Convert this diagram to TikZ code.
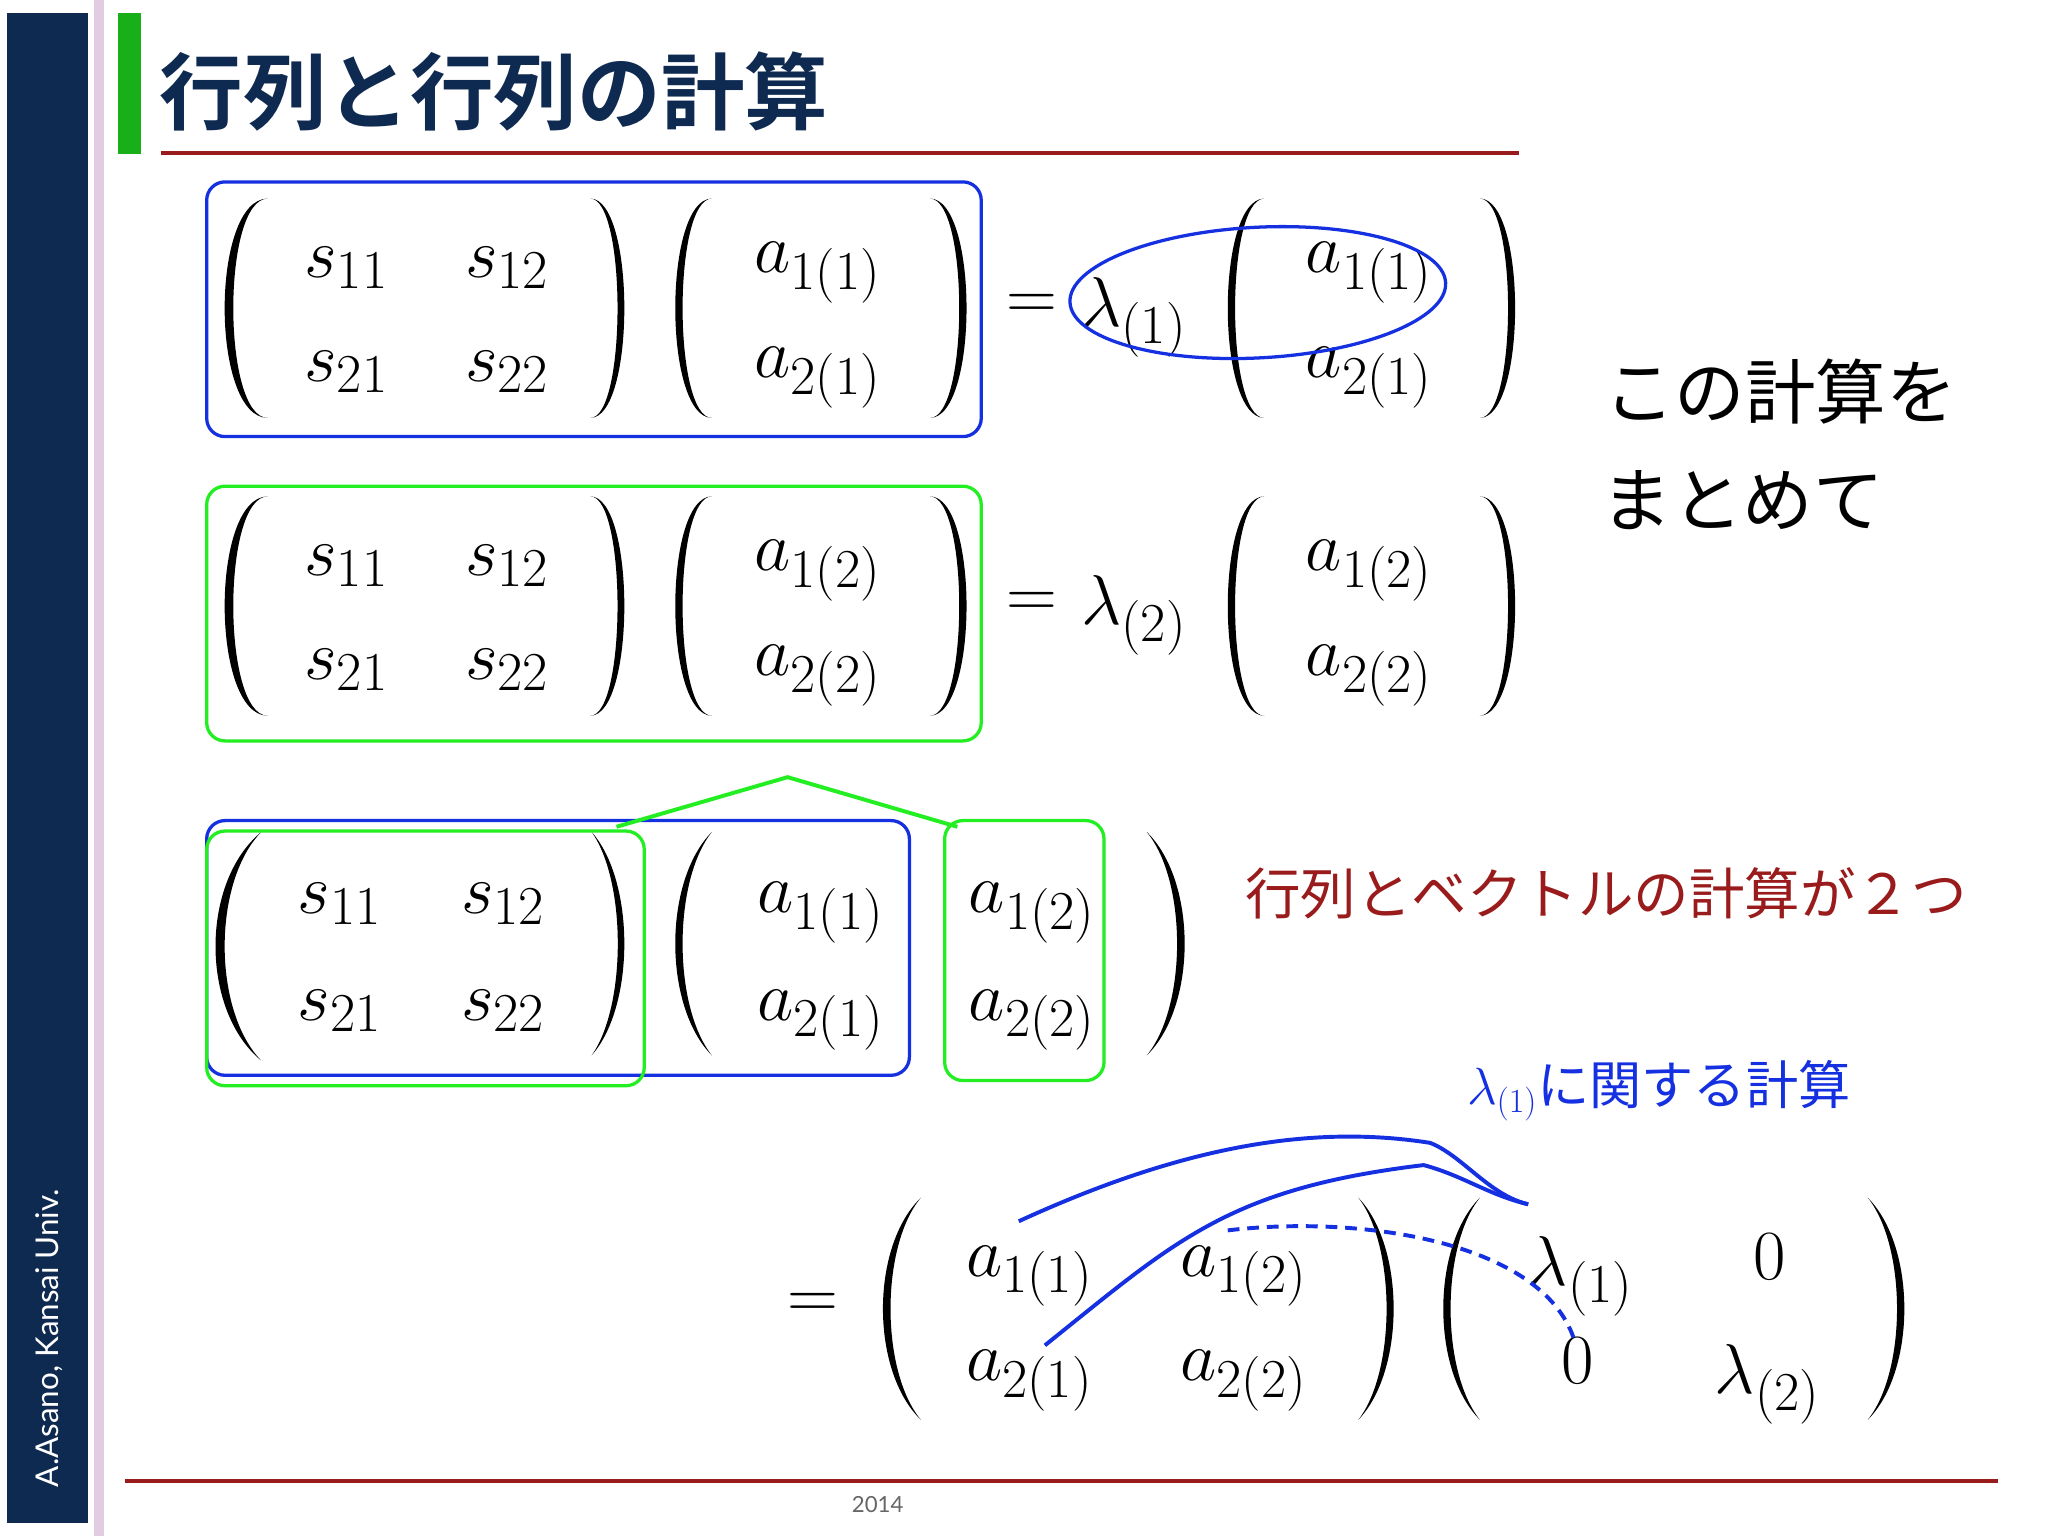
\documentclass[tikz,border=0pt]{standalone}
\usepackage{fix-cm}
\usepackage{fontspec}
\usetikzlibrary{shapes.geometric}
\newfontfamily\cjk{Noto Sans CJK JP}
\newfontfamily\cjkb{Noto Sans CJK JP Bold}
\setsansfont{Lato}
\DeclareMathSizes{54}{54}{42}{32}
\DeclareMathSizes{40}{40}{26}{20}
\definecolor{navy}{HTML}{0F2A50}
\definecolor{dred}{HTML}{9A1B1B}
\definecolor{mblue}{HTML}{1530E0}
\definecolor{mgreen}{HTML}{22EE22}
\begin{document}
\begin{tikzpicture}[x=1pt,y=-1pt,
  e/.style={font=\fontsize{54}{60}\selectfont,inner sep=0pt},
  bbox/.style={draw=mblue,line width=2.5pt,rounded corners=14pt},
  gbox/.style={draw=mgreen,line width=2.5pt,rounded corners=14pt}]
% paren: tip x, bulge x, top y, bottom y
\newcommand\PAR[4]{%
  \pgfmathsetmacro\wo{(#2-#1)/0.75}\pgfmathsetmacro\wi{(#2-#1)/0.75*0.8}%
  \pgfmathsetmacro\hq{(#4-#3)*0.22}%
  \fill (#1,#3) .. controls (#1+\wo,#3+\hq) and (#1+\wo,#4-\hq) .. (#1,#4)
     .. controls (#1+\wi,#4-\hq) and (#1+\wi,#3+\hq) .. cycle;}
\useasboundingbox[fill=white] (0,0) rectangle (1568,1176);
\fill[navy] (5,10) rectangle (67,1166);
\fill[black!15!violet!20] (72,0) rectangle (80,1176);
\fill[green!65!black!90] (90,10) rectangle (108,118);
\node[rotate=90,white,font=\sffamily\fontsize{24}{28}\selectfont,anchor=west] (auth) at (38,1142) {A.Asano, Kansai Univ.};
\node[anchor=west,navy,font=\cjkb\fontsize{64}{70}\selectfont,inner sep=0pt] (title) at (122,70) {行列と行列の計算};
\draw[dred,line width=3.5pt] (123,117) -- (1163,117);
\draw[dred,line width=3pt] (96,1134) -- (1530,1134);
\node[gray!80!black,font=\sffamily\fontsize{17}{20}\selectfont] (yr) at (672,1152) {2014};
% row 1 and 2
\foreach \r/\y/\k in {1/235/1,2/463/2}{
  \PAR{205}{172}{\y-83}{\y+85}
  \PAR{452}{478}{\y-83}{\y+85}
  \PAR{545}{517}{\y-83}{\y+85}
  \PAR{712}{740}{\y-83}{\y+85}
  \PAR{968}{940}{\y-83}{\y+85}
  \PAR{1133}{1160}{\y-83}{\y+85}
  \node[e] at (265,\y-30) {$s_{11}$};
  \node[e] at (388,\y-30) {$s_{12}$};
  \node[e] at (265,\y+50) {$s_{21}$};
  \node[e] at (388,\y+50) {$s_{22}$};
  \node[e] at (626,\y-26) {$a_{1(\k)}$};
  \node[e] at (626,\y+54) {$a_{2(\k)}$};
  \node[e] at (790,\y) {$=$};
  \node[e] at (868,\y+8) {$\lambda_{(\k)}$};
  \node[e] at (1048,\y-26) {$a_{1(\k)}$};
  \node[e] at (1048,\y+54) {$a_{2(\k)}$};
}
\node[bbox,minimum width=593pt,minimum height=195pt,anchor=north west] (b1) at (157,138) {};
\node[gbox,minimum width=593pt,minimum height=195pt,anchor=north west] (g1) at (157,371) {};
\node[draw=mblue,line width=2.5pt,ellipse,minimum width=288pt,minimum height=100pt,rotate=3] (ell) at (963,224) {};
\node[anchor=west,font=\cjk\fontsize{54}{60}\selectfont,inner sep=0pt] (t1) at (1228,300) {この計算を};
\node[anchor=west,font=\cjk\fontsize{54}{60}\selectfont,inner sep=0pt] (t2) at (1226,383) {まとめて};
% row 3
\PAR{200}{165}{637}{812}
\PAR{453}{478}{637}{808}
\PAR{545}{517}{637}{808}
\PAR{878}{907}{637}{808}
\node[e] at (260,692) {$s_{11}$};
\node[e] at (385,692) {$s_{12}$};
\node[e] at (260,774) {$s_{21}$};
\node[e] at (385,774) {$s_{22}$};
\node[e] at (628,699) {$a_{1(1)}$};
\node[e] at (628,781) {$a_{2(1)}$};
\node[e] at (790,699) {$a_{1(2)}$};
\node[e] at (790,781) {$a_{2(2)}$};
\node[bbox,minimum width=538pt,minimum height=195pt,anchor=north west] (b3) at (157,627) {};
\node[gbox,minimum width=335pt,minimum height=195pt,anchor=north west] (g3) at (157,635) {};
\node[gbox,minimum width=122pt,minimum height=199pt,anchor=north west] (g4) at (722,627) {};
\coordinate (pk) at (603,595);
\draw[mgreen,line width=3pt] (472,633) -- (pk) -- (733,633);
\node[anchor=west,dred,font=\cjk\fontsize{42.5}{48}\selectfont,inner sep=0pt] (t3) at (953,684) {行列とベクトルの計算が２つ};
\node[anchor=west,mblue,font=\cjk\fontsize{40}{46}\selectfont,inner sep=0pt] (t4) at (1123,835) {$\lambda_{(1)}$に関する計算};
% row 4
\node[e] at (622,1000) {$=$};
\PAR{705}{676}{917}{1087}
\PAR{1040}{1067}{917}{1087}
\PAR{1133}{1105}{917}{1087}
\PAR{1430}{1458}{917}{1087}
\node[e] at (788,977) {$a_{1(1)}$};
\node[e] at (952,977) {$a_{1(2)}$};
\node[e] at (788,1057) {$a_{2(1)}$};
\node[e] at (952,1057) {$a_{2(2)}$};
\node[e] (l1) at (1210,977) {$\lambda_{(1)}$};
\node[e] at (1355,962) {$0$};
\node[e] (z) at (1208,1042) {$0$};
\node[e] at (1353,1060) {$\lambda_{(2)}$};
\coordinate (tip) at (1170,922);
\coordinate (s1) at (780,935);
\coordinate (s2) at (800,1030);
\coordinate (s3) at (940,942);
\coordinate (e3) at (1205,1025);
\draw[mblue,line width=3pt] (s1) .. controls (900,880) and (1000,860) .. (1095,875) .. controls (1120,885) and (1140,915) .. (tip);
\draw[mblue,line width=3pt] (s2) .. controls (900,950) and (940,910) .. (1090,892) .. controls (1120,900) and (1140,915) .. (tip);
\draw[mblue,line width=3pt,dash pattern=on 9pt off 6pt] (s3) .. controls (1040,930) and (1180,950) .. (e3);
\end{tikzpicture}
\end{document}
